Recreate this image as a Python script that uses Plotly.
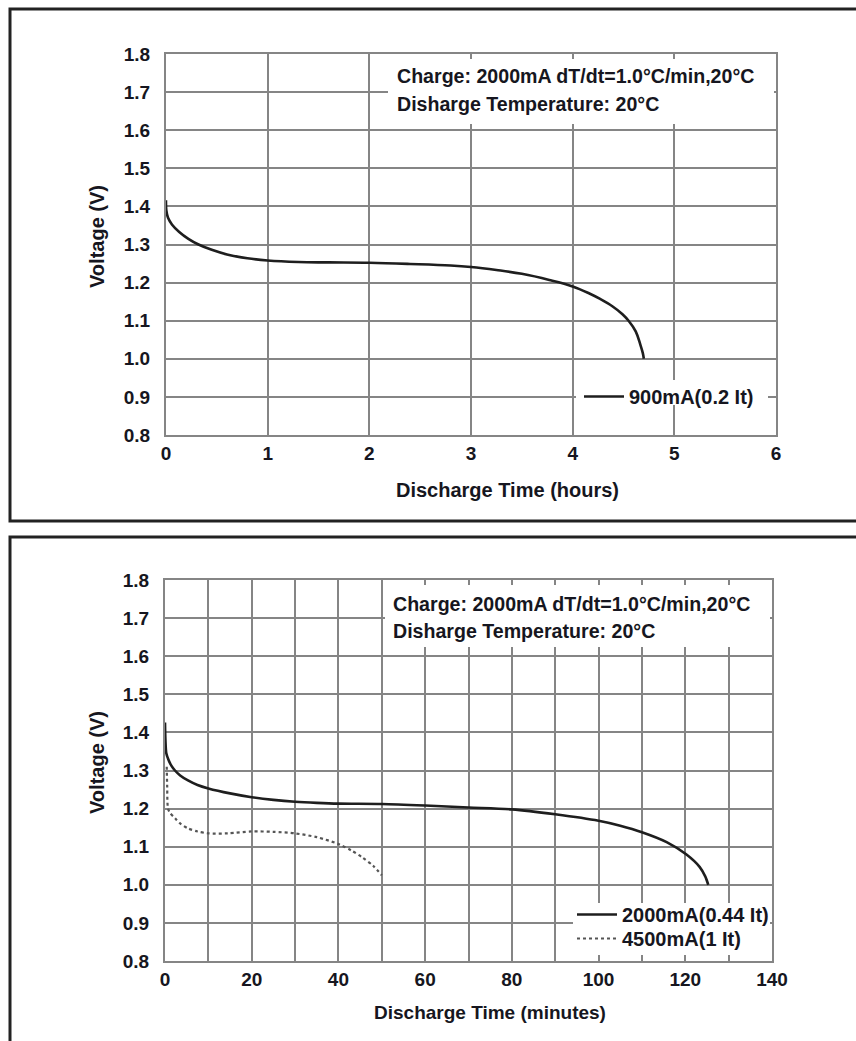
import plotly.graph_objects as go

W, H = 856, 1041

# ---- data: top chart (hours) ----
t_900 = [0, 0.003, 0.02, 0.06, 0.13, 0.22, 0.32, 0.45, 0.6, 0.8, 1.0, 1.3, 1.6, 2.0, 2.4,
         2.8, 3.0, 3.25, 3.5, 3.77, 4.0, 4.16, 4.27, 4.39, 4.49, 4.55, 4.62, 4.667, 4.69, 4.70]
v_900 = [1.416, 1.39, 1.37, 1.352, 1.333, 1.315, 1.300, 1.286, 1.274, 1.264, 1.258, 1.254, 1.253,
         1.252, 1.249, 1.245, 1.241, 1.233, 1.223, 1.207, 1.19, 1.172, 1.157, 1.138, 1.117, 1.10,
         1.072, 1.036, 1.015, 1.0]

# ---- data: bottom chart (minutes) ----
t_2000 = [0, 0.1, 0.3, 0.8, 1.5, 2.3, 3.5, 5.3, 7.5, 10, 15, 20, 25, 30, 35, 40, 50, 60, 70,
          80, 90, 100, 105, 110, 115.7, 120.2, 123.3, 124.6, 125.3]
v_2000 = [1.426, 1.38, 1.345, 1.328, 1.312, 1.30, 1.287, 1.274, 1.262, 1.253, 1.24, 1.23, 1.223,
          1.218, 1.215, 1.213, 1.212, 1.208, 1.203, 1.198, 1.185, 1.168, 1.155, 1.138, 1.112,
          1.08, 1.047, 1.022, 1.0]

t_4500 = [0.4, 0.5, 0.7, 1.2, 2.3, 3.5, 5.3, 7.5, 10, 14.5, 20, 25, 30, 35, 40, 43, 45.5, 48, 50]
v_4500 = [1.31, 1.26, 1.20, 1.188, 1.175, 1.161, 1.148, 1.14, 1.135, 1.135, 1.14, 1.139, 1.135,
          1.125, 1.107, 1.09, 1.072, 1.05, 1.025]

top_label = "900mA(0.2 It)"
bot_labels = ["2000mA(0.44 It)", "4500mA(1 It)"]
note_lines = ["Charge: 2000mA dT/dt=1.0°C/min,20°C", "Disharge Temperature: 20°C"]

FONT = "Liberation Sans, Arial, sans-serif"
TXT = "#161620"
GRID = "#858585"
FS_TICK = 19
FS_TITLE = 20
FS_NOTE = 19.6
FS_LEG = 20


def px(x):
    return x / W


def py(y):
    return 1 - y / H


fig = go.Figure()
fig.add_trace(go.Scatter(x=t_900, y=v_900, mode="lines", name=top_label,
                         line=dict(color="#1e1e1e", width=2.6, shape="spline", smoothing=1.1),
                         xaxis="x", yaxis="y", legend="legend"))
fig.add_trace(go.Scatter(x=t_2000, y=v_2000, mode="lines", name=bot_labels[0],
                         line=dict(color="#1e1e1e", width=2.6, shape="spline", smoothing=0.8),
                         xaxis="x2", yaxis="y2", legend="legend2"))
fig.add_trace(go.Scatter(x=t_4500, y=v_4500, mode="lines", name=bot_labels[1],
                         line=dict(color="#555555", width=2.2, dash="dot", shape="spline",
                                   smoothing=0.8),
                         xaxis="x2", yaxis="y2", legend="legend3"))

tickfont = dict(family=FONT, size=FS_TICK, color=TXT, weight="bold")
axcommon = dict(showline=True, mirror=True, linecolor=GRID, linewidth=2,
                showgrid=True, gridcolor=GRID, gridwidth=2, zeroline=False,
                ticks="", tickfont=tickfont, fixedrange=True, automargin=False)

legfont = dict(family=FONT, size=FS_LEG, color=TXT, weight="bold")
CLEAR = "rgba(0,0,0,0)"
fig.update_layout(
    width=W, height=H,
    margin=dict(l=0, r=0, t=0, b=0, autoexpand=False),
    paper_bgcolor="white", plot_bgcolor="white",
    showlegend=True,
    xaxis=dict(domain=[px(166), px(776)], range=[0, 6], dtick=1, anchor="y", **axcommon),
    yaxis=dict(domain=[py(435), py(54)], range=[0.8, 1.8], dtick=0.1, tickformat=".1f",
               anchor="x", ticklabelstandoff=10, **axcommon),
    xaxis2=dict(domain=[px(165), px(772)], range=[0, 140], dtick=20, anchor="y2",
                minor=dict(dtick=10, showgrid=True, gridcolor=GRID, gridwidth=2),
                **axcommon),
    yaxis2=dict(domain=[py(961), py(580)], range=[0.8, 1.8], dtick=0.1, tickformat=".1f",
                anchor="x2", ticklabelstandoff=10, **axcommon),
    legend=dict(x=px(579), y=py(377), xanchor="left", yanchor="top",
                bgcolor=CLEAR, borderwidth=0, itemwidth=40, font=legfont),
    legend2=dict(x=px(572), y=py(895), xanchor="left", yanchor="top",
                 bgcolor=CLEAR, borderwidth=0, itemwidth=40, font=legfont),
    legend3=dict(x=px(572), y=py(919), xanchor="left", yanchor="top",
                 bgcolor=CLEAR, borderwidth=0, itemwidth=40, font=legfont),
)

shapes = []
# outer frames
shapes.append(dict(type="rect", xref="paper", yref="paper", x0=px(10), x1=px(880),
                   y0=py(521), y1=py(9), line=dict(color="#222", width=3), layer="above"))
shapes.append(dict(type="rect", xref="paper", yref="paper", x0=px(10), x1=px(880),
                   y0=py(1100), y1=py(537), line=dict(color="#222", width=3), layer="above"))
# white boxes behind note text and legends
for (x0, x1, y0, y1) in [(388, 774, 59, 124), (385, 770, 585, 647),
                         (576, 768, 380, 405), (573, 770, 903, 955)]:
    shapes.append(dict(type="rect", xref="paper", yref="paper", x0=px(x0), x1=px(x1),
                       y0=py(y1), y1=py(y0), fillcolor="white", line=dict(width=0),
                       layer="above"))
fig.update_layout(shapes=shapes)

annots = []
notefont = dict(family=FONT, size=FS_NOTE, color=TXT, weight="bold")
for base, xl, gap in [(76, 395, 28), (604, 391, 27)]:
    for i, ln in enumerate(note_lines):
        annots.append(dict(xref="paper", yref="paper", x=px(xl), y=py(base + gap * i),
                           xanchor="left", yanchor="middle", text=ln, showarrow=False,
                           font=notefont))
titlefont = dict(family=FONT, size=FS_TITLE, color=TXT, weight="bold")
annots.append(dict(xref="paper", yref="paper", x=px(507), y=py(490), text="Discharge Time (hours)",
                   showarrow=False, xanchor="center", yanchor="middle", font=titlefont))
annots.append(dict(xref="paper", yref="paper", x=px(490), y=py(1012), text="Discharge Time (minutes)",
                   showarrow=False, xanchor="center", yanchor="middle",
                   font=dict(family=FONT, size=19, color=TXT, weight="bold")))
annots.append(dict(xref="paper", yref="paper", x=px(97), y=py(237), text="Voltage (V)",
                   showarrow=False, textangle=-90, xanchor="center", yanchor="middle", font=titlefont))
annots.append(dict(xref="paper", yref="paper", x=px(97), y=py(763), text="Voltage (V)",
                   showarrow=False, textangle=-90, xanchor="center", yanchor="middle", font=titlefont))
fig.update_layout(annotations=annots)

fig.write_html("out.html")
